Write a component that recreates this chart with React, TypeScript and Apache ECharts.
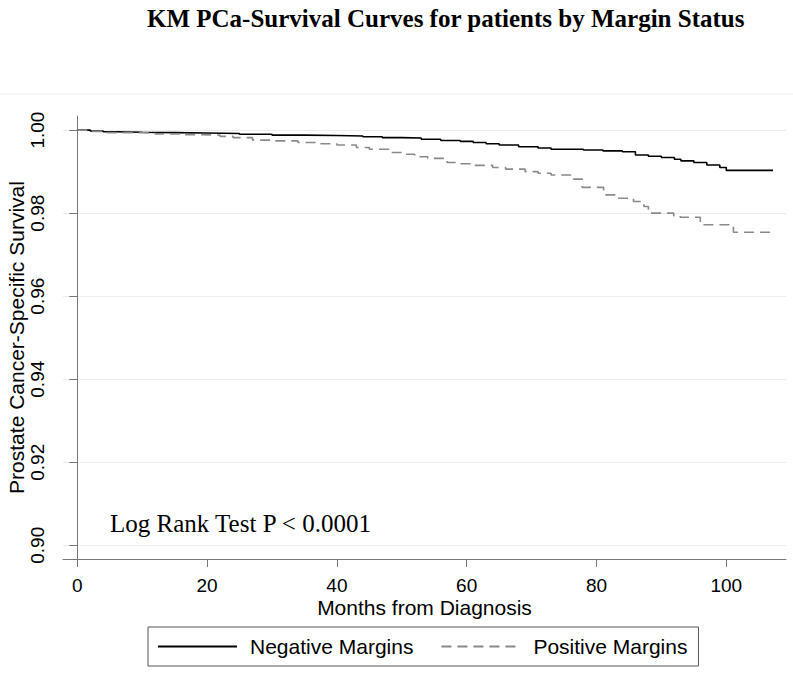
import React, { useEffect, useRef } from "react";
import * as echarts from "echarts";

const negTimes = [0, 2, 4, 6, 10, 15, 20, 25, 30, 35, 40, 44, 47, 50, 53, 56, 59, 61, 63, 65, 68, 71, 73, 78, 81, 84, 86, 88, 90, 92, 93, 95, 97, 99, 100, 107.2];
const negSurv = [1.0, 0.9998, 0.9996, 0.9995, 0.9994, 0.9993, 0.9992, 0.999, 0.9988, 0.9987, 0.9986, 0.9984, 0.9982, 0.9981, 0.9978, 0.9975, 0.9973, 0.997, 0.9967, 0.9964, 0.996, 0.9957, 0.9954, 0.9952, 0.995, 0.9948, 0.994, 0.9937, 0.9934, 0.993, 0.9926, 0.9922, 0.9916, 0.991, 0.9903, 0.9903];

const posTimes = [0, 2, 4, 8, 12, 16, 19, 22, 24, 27, 30, 34, 37, 40, 43, 45, 48, 50, 52, 54, 57, 59, 61, 64, 66, 69, 71, 73, 76, 77.8, 81.1, 83.2, 85.7, 87.3, 88, 91.9, 92.9, 96, 101.1, 107.3];
const posSurv = [1.0, 0.9997, 0.9994, 0.9993, 0.9991, 0.9989, 0.9988, 0.9985, 0.9982, 0.9976, 0.9974, 0.997, 0.9967, 0.9964, 0.9958, 0.9954, 0.9946, 0.9942, 0.9936, 0.9932, 0.9922, 0.9919, 0.9915, 0.991, 0.9906, 0.99, 0.9896, 0.9892, 0.9882, 0.9862, 0.9844, 0.9836, 0.9828, 0.9816, 0.98, 0.9794, 0.979, 0.9772, 0.9754, 0.9754];

const xTicks = [0, 20, 40, 60, 80, 100];
const yTicks = [0.9, 0.92, 0.94, 0.96, 0.98, 1.0];

const seriesNames = ["Negative Margins", "Positive Margins"];
const titleText = "KM PCa-Survival Curves for patients by Margin Status";
const noteText = "Log Rank Test P < 0.0001";

const SANS = "'Liberation Sans', Arial, sans-serif";
const SERIF = "'Liberation Serif', 'Times New Roman', serif";

export default function App() {
  const ref = useRef<HTMLDivElement>(null);
  useEffect(() => {
    if (!ref.current) return;
    const chart = echarts.init(ref.current, null, { renderer: "svg" });
    const negData = negTimes.map((t, i) => [t, negSurv[i]]);
    const posData = posTimes.map((t, i) => [t, posSurv[i]]);
    chart.setOption({
      animation: false,
      backgroundColor: "#ffffff",
      title: {
        text: titleText,
        left: 142,
        top: 1,
        textStyle: { fontFamily: SERIF, fontWeight: "bold", fontSize: 25, color: "#000" },
      },
      graphic: [
        {
          type: "line",
          shape: { x1: 0, y1: 94, x2: 793, y2: 94 },
          style: { stroke: "#ececec", lineWidth: 1 },
          silent: true,
        },
        {
          type: "text",
          left: 110,
          top: 511,
          style: { text: noteText, font: `25px ${SERIF}`, fill: "#000" },
        },
      ],
      legend: {
        left: 148,
        top: 627,
        orient: "horizontal",
        padding: [9, 11, 9, 9],
        itemWidth: 79,
        itemHeight: 20,
        itemGap: 27,
        borderColor: "#555",
        borderWidth: 1,
        borderRadius: 0,
        itemStyle: { color: "transparent", borderWidth: 0, opacity: 0 },
        textStyle: { fontFamily: SANS, fontSize: 21, color: "#000", padding: [0, 0, 0, 8] },
        data: seriesNames,
      },
      grid: { left: 63, right: 7, top: 116, bottom: 117, containLabel: false, outerBoundsMode: "none" },
      xAxis: {
        type: "value",
        min: -2.2,
        max: 109.2,
        name: "Months from Diagnosis",
        nameLocation: "middle",
        nameGap: 38,
        nameMoveOverlap: false,
        nameTextStyle: { fontFamily: SANS, fontSize: 21, color: "#000" },
        axisLine: { show: true, lineStyle: { color: "#777", width: 1 } },
        axisTick: { show: true, length: 8, lineStyle: { color: "#777" }, customValues: xTicks },
        axisLabel: { fontFamily: SANS, fontSize: 19, color: "#000", margin: 17, customValues: xTicks },
        splitLine: { show: false },
      },
      yAxis: {
        type: "value",
        min: 0.8967,
        max: 1.0034,
        name: "Prostate Cancer-Specific Survival",
        nameLocation: "middle",
        nameGap: 36,
        nameMoveOverlap: false,
        nameRotate: 90,
        nameTextStyle: { fontFamily: SANS, fontSize: 21, color: "#000" },
        axisLine: { show: true, lineStyle: { color: "#777", width: 1 } },
        axisTick: { show: true, length: 8, lineStyle: { color: "#777" }, customValues: yTicks },
        axisLabel: {
          fontFamily: SANS,
          fontSize: 19,
          color: "#000",
          rotate: 90,
          margin: 16,
          customValues: yTicks,
          formatter: (v: number) => v.toFixed(2),
        },
        splitLine: { show: true, lineStyle: { color: "#ececec", width: 1 } },
      },
      series: [
        {
          name: seriesNames[0],
          type: "line",
          step: "end",
          symbol: "none",
          data: negData,
          lineStyle: { color: "#000", width: 1.6 },
          itemStyle: { color: "#000" },
        },
        {
          name: seriesNames[1],
          type: "line",
          step: "end",
          symbol: "none",
          data: posData,
          lineStyle: { color: "#8a8a8a", width: 1.6, type: [10, 6] },
          itemStyle: { color: "#8a8a8a" },
        },
      ],
    });
    return () => chart.dispose();
  }, []);
  return (
    <div
      ref={ref}
      style={{ position: "fixed", left: 0, top: 0, width: 793, height: 676 }}
    />
  );
}
